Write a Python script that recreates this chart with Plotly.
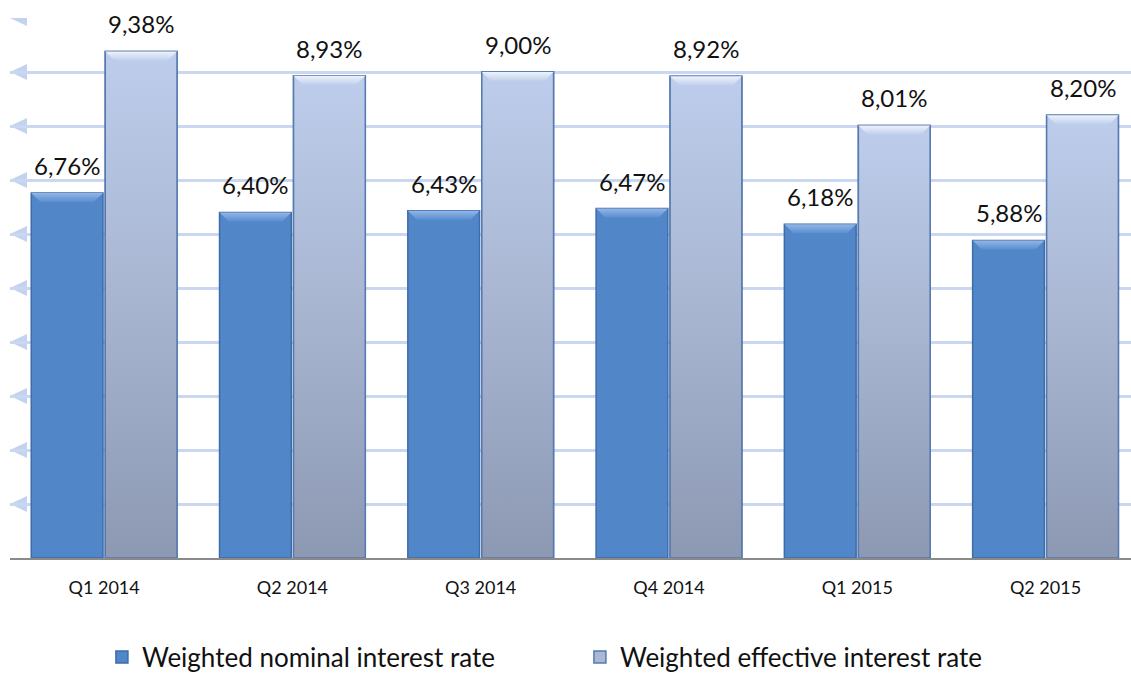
import plotly.graph_objects as go

# Quarterly weighted interest rates (%)
quarters = ["Q1 2014", "Q2 2014", "Q3 2014", "Q4 2014", "Q1 2015", "Q2 2015"]
nominal = [6.76, 6.40, 6.43, 6.47, 6.18, 5.88]
effective = [9.38, 8.93, 9.00, 8.92, 8.01, 8.20]
grid_values = [1, 2, 3, 4, 5, 6, 7, 8, 9, 10]

BARGAP = 0.214
GROUPGAP = 0.03
slot = (1 - BARGAP) / 2
bw = slot * (1 - GROUPGAP)
idx = list(range(len(quarters)))

PX_PER_UNIT_Y = 540 / 10.0
PX_PER_UNIT_X = 1121 / 5.954

NOM_FILL = "#5186c8"
NOM_LINE = "#3d6ca6"
EFF_MID = "#a9b8d5"
EFF_LINE = "#5579b0"

fig = go.Figure()

fig.add_trace(go.Bar(
    name="Weighted nominal interest rate", x=idx, y=nominal,
    marker=dict(color=NOM_FILL, line=dict(color=NOM_LINE, width=1.5)),
    hoverinfo="skip",
))
fig.add_trace(go.Bar(
    name="Weighted effective interest rate", x=idx, y=effective,
    marker=dict(color=EFF_MID, line=dict(color=EFF_LINE, width=1.5)),
    hoverinfo="skip",
))


def bar_outline(cx, v):
    x0, x1 = cx - bw / 2, cx + bw / 2
    return [x0, x1, x1, x0, x0], [0, 0, v, v, 0]


def bevel(cx, v):
    h = 9 / PX_PER_UNIT_Y
    d = 9 / PX_PER_UNIT_X
    x0, x1 = cx - bw / 2, cx + bw / 2
    return [x0, x1, x1 - d, x0 + d, x0], [v, v, v - h, v - h, v]


# gradient body of the effective-rate bars
for i, v in zip(idx, effective):
    cx = i + slot / 2
    xs, ys = bar_outline(cx, v)
    fig.add_trace(go.Scatter(
        x=xs, y=ys, mode="lines", fill="toself",
        line=dict(color=EFF_LINE, width=1.5),
        fillgradient=dict(type="vertical", start=0, stop=v,
                          colorscale=[[0, "#8d99b3"], [0.55, "#a9b7d3"], [1, "#bdcdeb"]]),
        showlegend=False, hoverinfo="skip",
    ))

# bevelled top edges
for series, offset, top_c, base_c in [
    (nominal, -slot / 2, "#93b6e6", "#5a8ed0"),
    (effective, slot / 2, "#eef3fb", "#bfcfec"),
]:
    for i, v in zip(idx, series):
        xs, ys = bevel(i + offset, v)
        fig.add_trace(go.Scatter(
            x=xs, y=ys, mode="lines", fill="toself",
            line=dict(width=0),
            fillgradient=dict(type="vertical", start=v - 9 / PX_PER_UNIT_Y, stop=v,
                              colorscale=[[0, base_c], [1, top_c]]),
            showlegend=False, hoverinfo="skip",
        ))

# value labels
annotations = []
for series, offset in [(nominal, -slot / 2), (effective, slot / 2)]:
    for i, v in zip(idx, series):
        annotations.append(dict(
            x=i + offset, y=v, xref="x", yref="y",
            text=f"{v:.2f}%".replace(".", ","),
            showarrow=False, yanchor="bottom", yshift=11,
            font=dict(family="Lato", size=24, color="#111111"),
        ))

# arrow heads at the left end of each gridline
shapes = []
for g in grid_values:
    shapes.append(dict(
        type="path", xref="paper", yref="y",
        xsizemode="pixel", ysizemode="pixel", xanchor=0, yanchor=g,
        path="M0,0 L17,8 L17,-8 Z",
        fillcolor="#c3d3ef", line=dict(width=0), layer="below",
    ))

fig.update_layout(
    width=1131, height=676,
    margin=dict(l=10, r=0, t=18, b=118),
    paper_bgcolor="white", plot_bgcolor="white",
    barmode="group", bargap=BARGAP, bargroupgap=GROUPGAP,
    annotations=annotations, shapes=shapes,
    showlegend=True,
    legend=dict(
        orientation="h", x=0.082, xanchor="left",
        yref="container", y=0.028, yanchor="middle",
        entrywidth=433, entrywidthmode="pixels",
        font=dict(family="Lato", size=26, color="#111111"),
        traceorder="normal",
    ),
    font=dict(family="Lato"),
)
fig.update_xaxes(
    range=[-0.5, 5.454], tickvals=idx, ticktext=quarters,
    showgrid=False, zeroline=False, showline=True, linecolor="#8a8a8a", linewidth=2,
    ticks="outside", ticklen=12, tickcolor="rgba(0,0,0,0)",
    tickfont=dict(family="Lato", size=18, color="#111111"),
    fixedrange=True,
)
fig.update_yaxes(
    range=[0, 10], tickvals=grid_values, showticklabels=False,
    showgrid=True, gridcolor="#c9d7f0", gridwidth=3, zeroline=False,
    fixedrange=True,
)

fig.write_html("out.html")
